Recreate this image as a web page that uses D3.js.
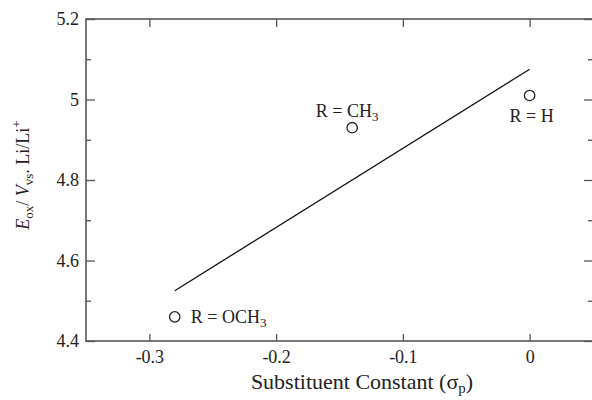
<!DOCTYPE html>
<html>
<head>
<meta charset="utf-8">
<script src="https://cdn.jsdelivr.net/npm/d3@7"></script>
<style>
  body { margin: 0; background: #fff; }
  text { font-family: "Liberation Serif", "Times New Roman", serif; fill: #222; }
</style>
</head>
<body>
<div id="chart-area"></div>
<script>
// data
var labels = ["R = OCH3", "R = CH3", "R = H"];
var sigma = [-0.28, -0.14, 0.0];
var eox = [4.46, 4.93, 5.01];
// least squares line, end points
var fitX = [-0.28, 0.0];
var fitY = [4.525, 5.075];

var xTicks = [-0.3, -0.2, -0.1, 0];
var yTicks = [4.4, 4.6, 4.8, 5, 5.2];
var yMinor = [4.5, 4.7, 4.9, 5.1];

var W = 592, H = 400;
var margin = { left: 86, right: -1, top: 19, bottom: 59 };
var width = W - margin.left - margin.right,
    height = H - margin.top - margin.bottom;

var svg = d3.select("#chart-area").append("svg")
    .attr("width", W)
    .attr("height", H);

var g = svg.append("g")
    .attr("transform", "translate(" + margin.left + "," + margin.top + ")");

var x = d3.scaleLinear().domain([-0.35, 0.05]).range([0, width]);
var y = d3.scaleLinear().domain([4.4, 5.2]).range([height, 0]);

var axisColor = "#555";
// plain hyphen, like the original
var fmt = function(d) { return String(d); };

// frame
g.append("rect")
    .attr("x", 0).attr("y", 0)
    .attr("width", width).attr("height", height)
    .attr("fill", "none")
    .attr("stroke", axisColor)
    .attr("stroke-width", 1.6);

// bottom axis
var xAxis = g.append("g")
    .attr("transform", "translate(0," + height + ")")
    .call(d3.axisBottom(x).tickValues(xTicks).tickSizeInner(-7).tickSizeOuter(0)
        .tickPadding(9).tickFormat(fmt));
xAxis.select(".domain").remove();

// top ticks
var xTop = g.append("g")
    .call(d3.axisTop(x).tickValues(xTicks).tickSize(-8).tickFormat(""));
xTop.select(".domain").remove();

// left axis
var yAxis = g.append("g")
    .call(d3.axisLeft(y).tickValues(yTicks).tickSizeInner(-9).tickSizeOuter(0)
        .tickPadding(7).tickFormat(fmt));
yAxis.select(".domain").remove();
var yMin = g.append("g")
    .call(d3.axisLeft(y).tickValues(yMinor).tickSize(-5).tickFormat(""));
yMin.select(".domain").remove();

// right ticks
var yRight = g.append("g")
    .attr("transform", "translate(" + width + ",0)")
    .call(d3.axisRight(y).tickValues(yTicks).tickSize(-9).tickFormat(""));
yRight.select(".domain").remove();
var yRightMin = g.append("g")
    .attr("transform", "translate(" + width + ",0)")
    .call(d3.axisRight(y).tickValues(yMinor).tickSize(-5).tickFormat(""));
yRightMin.select(".domain").remove();

g.selectAll(".tick line").attr("stroke", axisColor).attr("stroke-width", 1.3);
g.selectAll(".tick text")
    .attr("font-family", "Liberation Serif")
    .attr("font-size", "18px")
    .attr("fill", "#222");

// fit line
var line = d3.line()
    .x(function(d) { return x(d[0]); })
    .y(function(d) { return y(d[1]); });
g.append("path")
    .datum(d3.zip(fitX, fitY))
    .attr("d", line)
    .attr("fill", "none")
    .attr("stroke", "#111")
    .attr("stroke-width", 1.3);

// points
var pts = d3.range(sigma.length).map(function(i) {
    return { label: labels[i], s: sigma[i], e: eox[i] };
});
g.selectAll("circle.pt")
    .data(pts)
    .enter().append("circle")
    .attr("class", "pt")
    .attr("cx", function(d) { return x(d.s); })
    .attr("cy", function(d) { return y(d.e); })
    .attr("r", 5.2)
    .attr("fill", "none")
    .attr("stroke", "#222")
    .attr("stroke-width", 1.3);

// point labels: offset relative to point
var offs = [
    { dx: 16, dy: 6, anchor: "start" },
    { dx: -5, dy: -11, anchor: "middle" },
    { dx: 2, dy: 27, anchor: "middle" }
];
pts.forEach(function(d, i) {
    var t = g.append("text")
        .attr("x", x(d.s) + offs[i].dx)
        .attr("y", y(d.e) + offs[i].dy)
        .attr("text-anchor", offs[i].anchor)
        .attr("font-size", "18px");
    if (d.label.slice(-1) === "3") {
        t.append("tspan").text(d.label.slice(0, -1));
        t.append("tspan").attr("font-size", "13px").attr("dy", 4).text("3");
    } else {
        t.text(d.label);
    }
});

// x axis title
var xt = svg.append("text")
    .attr("x", 362)
    .attr("y", 389)
    .attr("text-anchor", "middle")
    .attr("font-size", "22px");
xt.append("tspan").text("Substituent Constant (\u03C3");
xt.append("tspan").attr("font-size", "15px").attr("dy", 4).text("p");
xt.append("tspan").attr("dy", -4).text(")");

// y axis title
var yt = svg.append("text")
    .attr("transform", "translate(29,175) rotate(-90)")
    .attr("text-anchor", "middle")
    .attr("font-size", "18px");
yt.append("tspan").attr("font-style", "italic").text("E");
yt.append("tspan").attr("font-size", "13px").attr("dy", 4).text("ox");
yt.append("tspan").attr("dy", -4).text("/ ");
yt.append("tspan").attr("font-style", "italic").text("V");
yt.append("tspan").attr("font-size", "13px").attr("dy", 4).text("vs");
yt.append("tspan").attr("dy", -4).text(". Li/Li");
yt.append("tspan").attr("font-size", "13px").attr("dy", -8).text("+");
</script>
</body>
</html>
